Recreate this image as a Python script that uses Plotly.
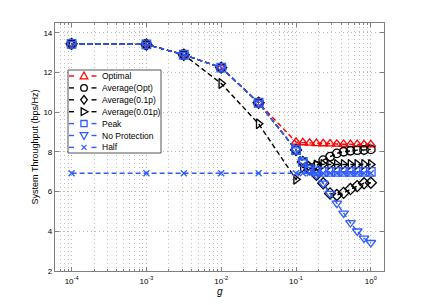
import plotly.graph_objects as go

g_values = [1e-4, 1e-3, 0.003162, 0.01, 0.03162,
            0.1, 0.1233, 0.1520, 0.1874, 0.2310, 0.2848,
            0.3511, 0.4329, 0.5337, 0.6579, 0.8111, 1.0]

optimal = [13.45, 13.42, 12.9, 12.25, 10.48,
           8.5, 8.47, 8.45, 8.43, 8.42, 8.41, 8.40, 8.39, 8.38, 8.38, 8.37, 8.37]
avg_opt = [13.45, 13.42, 12.9, 12.25, 10.48,
           8.1, 7.5, 7.15, 7.3, 7.59, 7.76, 7.93, 8.01, 8.06, 8.09, 8.10, 8.13]
avg_01p = [13.45, 13.42, 12.9, 12.25, 10.48,
           8.1, 7.5, 7.12, 6.85, 6.42, 5.91, 5.83, 5.94, 6.13, 6.28, 6.42, 6.45]
avg_001p = [13.45, 13.42, 12.9, 11.45, 9.42,
            6.62, 7.2, 7.3, 7.35, 7.37, 7.37, 7.37, 7.37, 7.37, 7.37, 7.37, 7.37]
peak = [13.45, 13.42, 12.9, 12.25, 10.48,
        8.1, 7.5, 7.12, 7.02, 7.0, 7.0, 7.0, 7.0, 7.0, 7.0, 7.0, 7.0]
no_protection = [13.45, 13.42, 12.9, 12.25, 10.48,
                 8.1, 7.5, 7.12, 6.85, 6.42, 5.91, 5.41, 4.91, 4.43, 4.01, 3.65, 3.43]
half = [6.93] * 17

series_names = ["Optimal", "Average(Opt)", "Average(0.1p)", "Average(0.01p)",
                "Peak", "No Protection", "Half"]

RED = "#ff0000"
BLK = "#000000"
BLU = "#2f5cff"

styles = [
    (optimal, RED, "triangle-up-open", "tri_up"),
    (avg_opt, BLK, "circle-open", "circle"),
    (avg_01p, BLK, "diamond-open", "diamond"),
    (avg_001p, BLK, "triangle-right-open", "tri_right"),
    (peak, BLU, "square-open", "square"),
    (no_protection, BLU, "triangle-down-open", "tri_down"),
    (half, BLU, "x-thin-open", "x"),
]

fig = go.Figure()
for name, (ys, col, sym, _) in zip(series_names, styles):
    fig.add_trace(go.Scatter(
        x=g_values, y=ys, name=name, mode="lines+markers", showlegend=False,
        line=dict(color=col, width=1.4, dash="5px,3px"),
        marker=dict(symbol=sym, size=8.5 if sym != "x-thin-open" else 6,
                    color=col, line=dict(color=col, width=1.3)),
    ))

# ---- geometry: the page body has an 8px margin, so the figure is drawn
# at page offset (8, 8). Plot area on the page: x 55..384, y 23..271.
OFF = 8
W, H = 417, 297
ML, MR, MT, MB = 47, 41, 15, 34
PW, PH = W - ML - MR, H - MT - MB
PLOT_L = OFF + ML
PLOT_B = OFF + H - MB


def px(x):
    return (x - PLOT_L) / PW


def py(y):
    return (PLOT_B - y) / PH


shapes = []
annotations = []
shapes.append(dict(type="rect", xref="paper", yref="paper", layer="above",
                   x0=px(68), x1=px(161), y0=py(153), y1=py(70),
                   line=dict(color="#555555", width=1), fillcolor="white"))


def path_of(points, close=True):
    s = "M " + " L ".join(f"{px(a):.5f},{py(b):.5f}" for a, b in points)
    return s + (" Z" if close else "")


for i, (name, (ys, col, sym, kind)) in enumerate(zip(series_names, styles)):
    cy = 76 + 11.9 * i
    cx = 84
    for xa, xb in [(69, 76.5), (91.5, 98)]:
        shapes.append(dict(type="line", xref="paper", yref="paper", layer="above",
                           x0=px(xa), x1=px(xb), y0=py(cy), y1=py(cy),
                           line=dict(color=col, width=1.4, dash="5px,3px")))
    lw = 1.3
    if kind == "circle":
        shapes.append(dict(type="circle", xref="paper", yref="paper", layer="above",
                           x0=px(cx - 3.3), x1=px(cx + 3.3), y0=py(cy + 3.3), y1=py(cy - 3.3),
                           line=dict(color=col, width=lw)))
    elif kind == "square":
        shapes.append(dict(type="rect", xref="paper", yref="paper", layer="above",
                           x0=px(cx - 3.1), x1=px(cx + 3.1), y0=py(cy + 3.1), y1=py(cy - 3.1),
                           line=dict(color=col, width=lw)))
    else:
        if kind == "tri_up":
            pts = [(cx, cy - 4.0), (cx + 3.8, cy + 2.8), (cx - 3.8, cy + 2.8)]
        elif kind == "tri_down":
            pts = [(cx - 3.8, cy - 2.8), (cx + 3.8, cy - 2.8), (cx, cy + 4.0)]
        elif kind == "tri_right":
            pts = [(cx - 2.8, cy - 3.8), (cx + 4.0, cy), (cx - 2.8, cy + 3.8)]
        elif kind == "diamond":
            pts = [(cx, cy - 4.3), (cx + 3.3, cy), (cx, cy + 4.3), (cx - 3.3, cy)]
        else:
            pts = None
        if pts is not None:
            path = path_of(pts, True)
        else:
            path = (path_of([(cx - 2.5, cy - 2.5), (cx + 2.5, cy + 2.5)], False) + " " +
                    path_of([(cx + 2.5, cy - 2.5), (cx - 2.5, cy + 2.5)], False))
        shapes.append(dict(type="path", xref="paper", yref="paper", layer="above",
                           path=path, line=dict(color=col, width=lw)))
    annotations.append(dict(xref="paper", yref="paper", x=px(100), y=py(cy),
                            xanchor="left", yanchor="middle", showarrow=False,
                            text=name,
                            font=dict(family="Liberation Sans, Arial, sans-serif",
                                      size=8.5, color="#000")))

# x axis title "g"
annotations.append(dict(xref="paper", yref="paper", x=px(220), y=py(291),
                        xanchor="center", yanchor="middle", showarrow=False,
                        text="<i>g</i>",
                        font=dict(family="Liberation Sans, Arial", size=10, color="#000")))

axis_font = dict(family="Liberation Sans, Arial, sans-serif", size=8, color="#000")
tickvals = [1e-4, 1e-3, 1e-2, 1e-1, 1]
ticktext = ["10<sup>-4</sup>", "10<sup>-3</sup>", "10<sup>-2</sup>",
            "10<sup>-1</sup>", "10<sup>0</sup>"]

fig.update_xaxes(
    type="log", range=[-4.222, 0.176],
    tickvals=tickvals, ticktext=ticktext, tickfont=axis_font,
    ticks="inside", ticklen=4, tickcolor="#808080",
    showline=True, linecolor="#808080", linewidth=1.2, mirror="ticks",
    showgrid=True, gridcolor="#b8b8b8", griddash="1px,3px", gridwidth=1,
    minor=dict(dtick="D1", ticks="inside", ticklen=2, tickcolor="#808080",
               showgrid=True, gridcolor="#c0c0c0", griddash="1px,3px", gridwidth=1),
    zeroline=False, ticklabelstandoff=2,
)
fig.update_yaxes(
    range=[2, 14.5], tickvals=[2, 4, 6, 8, 10, 12, 14], tickfont=axis_font,
    ticks="inside", ticklen=4, tickcolor="#808080",
    showline=True, linecolor="#808080", linewidth=1.2, mirror="ticks",
    showgrid=True, gridcolor="#b8b8b8", griddash="1px,3px", gridwidth=1,
    zeroline=False,
    title=dict(text="System Throughput (bps/Hz)",
               font=dict(family="Liberation Sans, Arial", size=9, color="#000"), standoff=3),
)

fig.update_layout(
    width=W, height=H,
    margin=dict(l=ML, r=MR, t=MT, b=MB),
    paper_bgcolor="white", plot_bgcolor="white",
    showlegend=False,
    shapes=shapes, annotations=annotations,
)

fig.write_html("out.html")
